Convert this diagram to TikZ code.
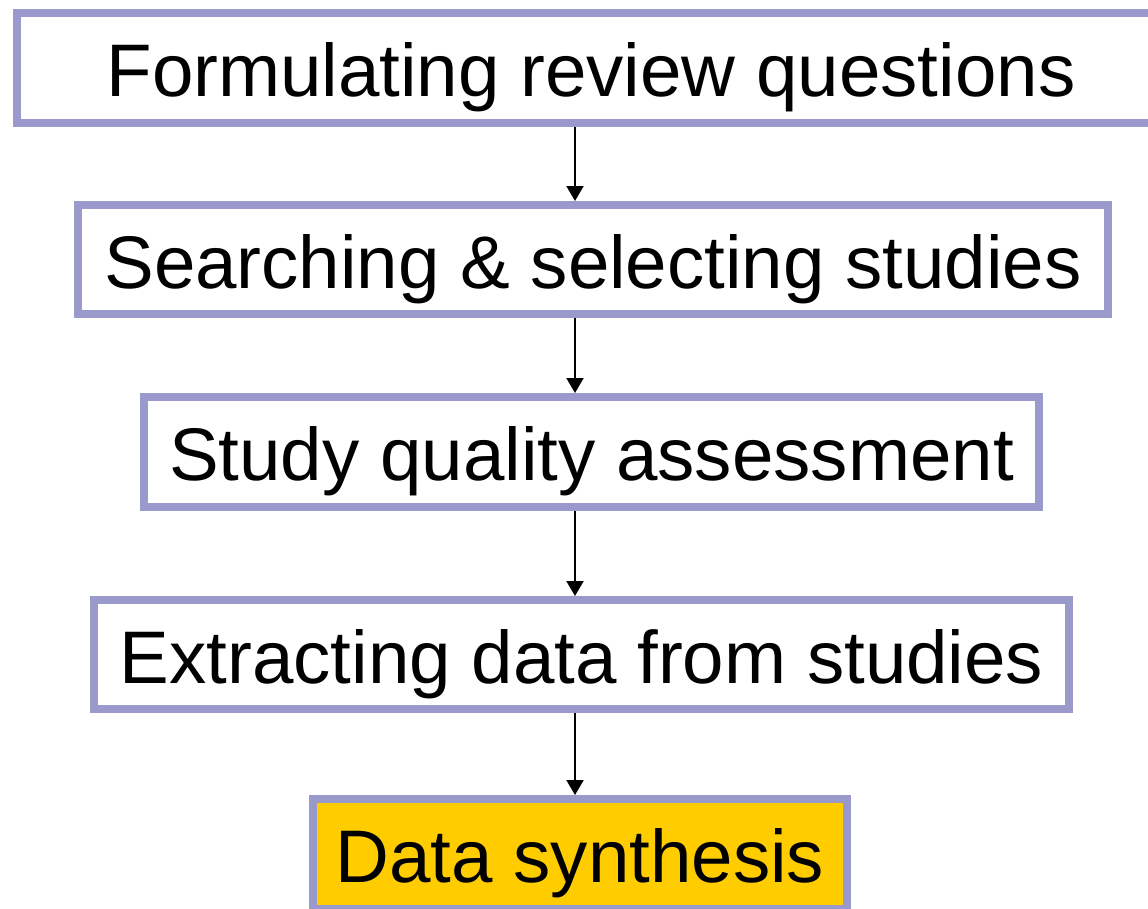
\documentclass[tikz,border=0pt]{standalone}
\usepackage{fontspec}
\setmainfont{Liberation Sans}
\usetikzlibrary{arrows.meta}
\definecolor{boxline}{RGB}{153,153,204}
\definecolor{gold}{RGB}{255,204,0}
\begin{document}
\begin{tikzpicture}[x=1pt,y=-1pt,
  stepbox/.style={draw=boxline,line width=8pt,fill=white,inner sep=0pt,
    text height=57pt,text depth=0pt,
    font=\fontsize{74.5}{90}\selectfont,text=black},
  arr/.style={draw=black,line width=2pt,-{Triangle[width=17pt,length=15pt]}}]
\useasboundingbox (0,0) rectangle (1148,908);
\clip (0,0) rectangle (1148,908);
\node[stepbox,minimum width=1148pt,minimum height=110pt] (b1) at (591,68) {Formulating review questions};
\node[stepbox,minimum width=1030pt,minimum height=109pt] (b2) at (593,259.5) {Searching \& selecting studies};
\node[stepbox,minimum width=895pt,minimum height=110pt] (b3) at (591.5,452) {Study quality assessment};
\node[stepbox,minimum width=975pt,minimum height=109pt] (b4) at (581.5,654.5) {Extracting data from studies};
\node[stepbox,fill=gold,minimum width=534pt,minimum height=110pt] (b5) at (580,854) {Data synthesis};
\coordinate (ax) at (575,0);
\draw[arr] (b1.south -| ax) -- (b2.north -| ax);
\draw[arr] (b2.south -| ax) -- (b3.north -| ax);
\draw[arr] (b3.south -| ax) -- (b4.north -| ax);
\draw[arr] (b4.south -| ax) -- (b5.north -| ax);
\end{tikzpicture}
\end{document}
